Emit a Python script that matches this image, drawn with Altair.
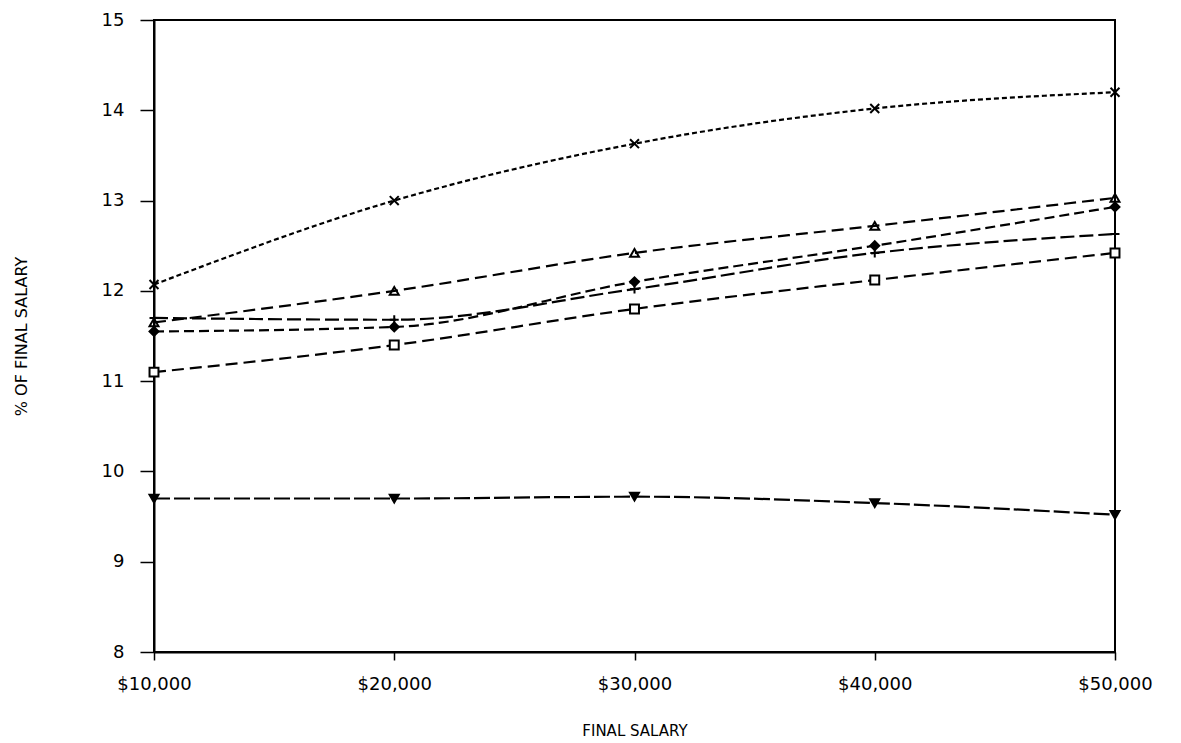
import altair as alt
import pandas as pd

salaries = [10000, 20000, 30000, 40000, 50000]
series_names = ["X", "Triangle", "Plus", "Diamond", "Square", "InvTriangle"]
x_vals = [12.07, 13.00, 13.63, 14.02, 14.20]
tri_vals = [11.65, 12.00, 12.42, 12.72, 13.03]
plus_vals = [11.70, 11.68, 12.02, 12.42, 12.63]
dia_vals = [11.55, 11.60, 12.10, 12.50, 12.93]
sq_vals = [11.10, 11.40, 11.80, 12.12, 12.42]
inv_vals = [9.70, 9.70, 9.72, 9.65, 9.52]
y_ticks = [8, 9, 10, 11, 12, 13, 14, 15]

all_vals = [x_vals, tri_vals, plus_vals, dia_vals, sq_vals, inv_vals]
rows = []
for name, vals in zip(series_names, all_vals):
    for s, v in zip(salaries, vals):
        rows.append({"series": name, "salary": s, "pct": v})
df = pd.DataFrame(rows)

x_enc = alt.X("salary:Q",
              scale=alt.Scale(domain=[10000, 50000], nice=False),
              axis=alt.Axis(values=salaries, format="$,.0f", title="FINAL SALARY",
                            grid=False, tickSize=8, labelPadding=15, titlePadding=30,
                            labelFlush=False,
                            labelFontSize=18, titleFontSize=15, titleFontWeight="normal",
                            labelFont="DejaVu Sans", titleFont="DejaVu Sans",
                            domainColor="black", tickColor="black", labelColor="black",
                            titleColor="black", domainWidth=2, tickWidth=1.5))
y_enc = alt.Y("pct:Q",
              scale=alt.Scale(domain=[8, 15], nice=False, zero=False),
              axis=alt.Axis(values=y_ticks, format="d", title="% OF FINAL SALARY", grid=False,
                            tickSize=14, labelPadding=16, titlePadding=72,
                            labelFlush=False,
                            labelFontSize=18, titleFontSize=16, titleFontWeight="normal",
                            labelFont="DejaVu Sans", titleFont="DejaVu Sans",
                            domainColor="black", tickColor="black", labelColor="black",
                            titleColor="black", domainWidth=2, tickWidth=1.5))

dash = alt.StrokeDash("series:N",
                      scale=alt.Scale(domain=series_names,
                                      range=[[5, 3], [12, 6], [14, 5], [10, 5], [12, 6], [16, 4]]),
                      legend=None)

lines = alt.Chart(df).mark_line(color="black", strokeWidth=2.2, interpolate="monotone").encode(
    x=x_enc, y=y_enc, strokeDash=dash, detail="series:N")

x_path = "M-1,-1L1,1M-1,1L1,-1"
plus_path = "M-1,0L1,0M0,-1L0,1"
points = alt.Chart(df).mark_point(strokeWidth=2, opacity=1).encode(
    x="salary:Q", y="pct:Q",
    shape=alt.Shape("series:N",
                    scale=alt.Scale(domain=series_names,
                                    range=[x_path, "triangle-up", plus_path, "diamond", "square", "triangle-down"]),
                    legend=None),
    fill=alt.Fill("series:N",
                  scale=alt.Scale(domain=series_names,
                                  range=["transparent", "transparent", "transparent", "black", "white", "black"]),
                  legend=None),
    stroke=alt.value("black"),
    size=alt.value(80),
)

chart = alt.layer(lines, points).properties(
    width=961, height=632,
    background="white",
    padding={"left": 5, "top": 3, "right": 5, "bottom": 2},
).configure_view(stroke="black", strokeWidth=2)

chart.save("out.html", embed_options={"renderer": "svg", "actions": False})
